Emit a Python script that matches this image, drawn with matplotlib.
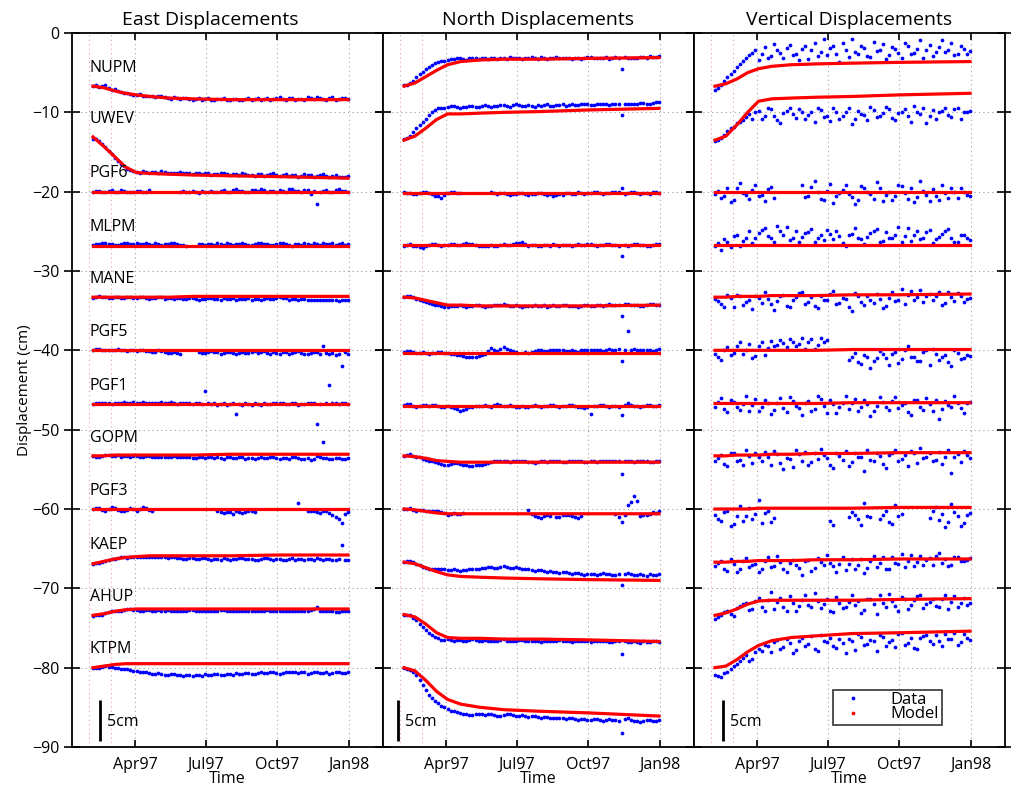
import numpy as np
import matplotlib
matplotlib.use('Agg')
import matplotlib.pyplot as plt
import matplotlib.dates as mdates
from matplotlib.lines import Line2D

plt.rcParams['font.family'] = ['Open Sans', 'DejaVu Sans']

nan = np.nan

stations = ['NUPM', 'UWEV', 'PGF6', 'MLPM', 'MANE', 'PGF5',
            'PGF1', 'GOPM', 'PGF3', 'KAEP', 'AHUP', 'KTPM']

# data sampled every 8 days, Feb 6 1997 .. Dec 31 1997 (42 samples)
data_dates = np.arange(np.datetime64('1997-02-06'), np.datetime64('1998-01-02'),
                       np.timedelta64(8, 'D'))
# second set of samples in between, Feb 10 .. Dec 27 (41 samples)
data_dates2 = np.arange(np.datetime64('1997-02-10'), np.datetime64('1997-12-30'),
                        np.timedelta64(8, 'D'))
model_dates = np.array(['1997-02-06', '1997-02-20', '1997-03-06', '1997-03-20',
                        '1997-04-03', '1997-04-20', '1997-05-15', '1997-06-15',
                        '1997-08-01', '1997-10-01', '1997-12-31'], dtype='datetime64[D]')

# ---- East ----
east_data = {
    'NUPM': [-6.7, -6.8, -6.6, -7.2, -7.3, -7.5, -7.7, -7.8, -7.9, -7.9, -8.1, -8.0, -8.2, -8.1,
             -8.3, -8.2, -8.4, -8.2, -8.3, -8.5, -8.3, -8.2, -8.4, -8.3, -8.5, -8.2, -8.3, -8.4,
             -8.2, -8.3, -8.1, -8.4, -8.2, -8.3, -8.5, -8.2, -8.1, -8.3, -8.2, -8.4, -8.2, -8.3],
    'UWEV': [-13.3, -13.6, -14.4, -15.3, -16.1, -16.8, -17.3, -17.5, -17.4, -17.6, -17.5, -17.4, -17.6, -17.7,
             -17.5, -17.6, -17.8, -17.7, -17.6, -17.9, -17.8, -17.7, -17.9, -17.8, -17.7, -17.9, -18.0, -17.8,
             -17.9, -17.7, -18.0, -17.8, -17.9, -18.1, -17.8, -17.9, -18.0, -17.8, -18.1, -17.9, -18.2, -18.0],
    'PGF6': [-20.0, -19.9, -20.1, -19.8, -20.0, -19.9, -20.1, -19.9, -20.0, -19.8, nan, nan, nan, nan,
             -20.0, -20.1, -19.9, -20.2, -20.0, -19.9, -20.1, -19.8, -20.0, -19.7, -19.9, -20.0, -19.8, -19.7,
             -20.0, -19.9, -19.8, -20.1, -19.7, -19.9, -19.8, -20.3, -21.5, -19.9, -20.0, -19.8, -19.9, -20.0],
    'MLPM': [-26.7, -26.6, -26.5, -26.6, -26.7, -26.5, -26.6, -26.5, -26.6, -26.6, -26.5, -26.7, -26.6, -26.5,
             -26.7, -26.8, nan, -26.6, -26.7, -26.6, -26.5, -26.7, -26.6, -26.6, -26.5, -26.7, -26.6, -26.5,
             -26.6, -26.7, -26.5, -26.6, -26.8, -26.6, -26.5, -26.7, -26.6, -26.5, -26.6, -26.7, -26.5, -26.6],
    'MANE': [-33.4, -33.2, -33.3, -33.4, -33.3, -33.4, -33.3, -33.4, -33.3, -33.5, -33.4, -33.3, -33.4, -33.5,
             -33.4, -33.5, -33.4, -33.6, -33.5, -33.4, -33.5, -33.4, -33.5, -33.6, -33.5, -33.4, -33.5, -33.6,
             -33.4, -33.5, -33.3, -33.4, -33.5, -33.6, -33.5, -33.6, -33.7, -33.6, -33.7, -33.6, -33.7, -33.6],
    'PGF5': [-39.9, -39.8, -39.9, -40.0, -39.8, -40.0, -39.9, -40.1, -40.0, -40.1, -40.2, -40.1, -40.3, -40.2,
             -40.4, nan, nan, -40.2, -40.3, -40.1, -40.2, -40.3, -40.2, -40.4, -40.2, -40.3, -40.1, -40.2,
             -40.3, -40.2, -40.4, -40.2, -40.3, -40.1, -40.5, -40.3, -40.2, -39.4, -40.4, -40.6, -42.0, -40.4],
    'PGF1': [-46.8, -46.6, -46.7, -46.8, -46.6, -46.5, -46.7, -46.6, -46.5, -46.7, -46.6, -46.5, -46.7, -46.6,
             -46.7, -46.6, -46.8, -46.7, -45.1, -46.8, -46.9, -46.7, -46.8, -48.0, -46.9, -46.8, -46.7, -46.9,
             -46.8, -46.7, -46.6, -46.8, -46.7, -46.9, -46.8, -46.6, -49.3, -51.5, -44.4, -46.7, -46.6, -46.8],
    'GOPM': [-53.3, -53.4, -53.2, -53.3, -53.2, -53.3, -53.4, -53.3, -53.4, -53.3, -53.4, -53.5, -53.4, -53.3,
             -53.5, -53.4, -53.6, -53.5, -53.6, -53.4, -53.5, -53.7, -53.5, -53.6, -53.5, -53.6, -53.7, -53.5,
             -53.6, -53.5, -53.7, -53.6, -53.5, -53.6, -53.7, -53.8, -53.3, -53.6, -53.7, -53.6, -53.7, -53.6],
    'PGF3': [-60.0, -59.9, -60.2, -59.8, -60.1, -60.3, -59.9, -60.2, -59.8, -60.1, nan, nan, nan, nan,
             nan, nan, nan, nan, nan, nan, -60.3, -60.5, -60.4, -60.3, -60.5, -60.2, -60.4, nan,
             nan, nan, nan, nan, nan, -59.3, nan, -60.3, -60.4, -60.2, -60.5, -61.0, -61.8, -60.4],
    'KAEP': [-66.9, -66.8, -66.5, -66.3, -66.2, -66.1, -66.1, -66.0, -66.1, -66.0, -66.1, -66.0, -66.2, -66.1,
             -66.2, -66.3, -66.2, -66.3, -66.2, -66.4, -66.3, -66.2, -66.4, -66.3, -66.2, -66.3, -66.4, -66.3,
             -66.2, -66.4, -66.3, -66.4, -66.2, -66.3, -66.4, -66.3, -66.2, -66.4, -66.3, -66.4, -64.5, -66.4],
    'AHUP': [-73.5, -73.4, -73.1, -72.9, -72.8, -72.7, -72.6, -72.7, -72.8, -72.7, -72.8, -72.9, -72.7, -72.8,
             -72.9, -72.8, -72.7, -72.9, -72.8, -72.9, -72.8, -72.7, -72.9, -72.8, -72.9, -72.8, -72.9, -72.8,
             -72.7, -72.9, -72.8, -72.9, -72.8, -72.9, -72.8, -72.7, -72.4, -72.8, -72.9, -73.0, -72.9, -72.9],
    'KTPM': [-80.1, -80.0, -79.8, -79.9, -80.1, -80.2, -80.3, -80.4, -80.5, -80.7, -80.8, -80.8, -80.9, -80.8,
             -80.9, -80.9, -81.0, -80.9, -80.8, -80.9, -80.8, -80.9, -80.8, -80.7, -80.8, -80.7, -80.8, -80.6,
             -80.7, -80.6, -80.8, -80.6, -80.5, -80.7, -80.6, -80.7, -80.6, -80.7, -80.8, -80.6, -80.7, -80.6],
}
east_data2 = {
    'NUPM': [-6.6, -6.7, -6.9, -7.1, -7.4, -7.6, -7.8, -7.7, -8.0, -8.0, -7.9, -8.1, -8.3, -8.2,
             -8.2, -8.3, -8.3, -8.4, -8.2, -8.4, -8.3, -8.5, -8.3, -8.4, -8.3, -8.4, -8.2, -8.3,
             -8.4, -8.2, -8.3, -8.2, -8.4, -8.3, -8.1, -8.3, -8.2, -8.4, -8.1, -8.3, -8.2],
    'UWEV': [-13.4, -14.0, -14.9, -15.7, -16.5, -17.1, -17.4, -17.6, -17.5, -17.5, -17.6, -17.5, -17.7, -17.6,
             -17.6, -17.7, -17.6, -17.8, -17.7, -17.8, -17.7, -17.8, -17.8, -17.9, -17.8, -17.9, -17.8, -18.0,
             -17.8, -17.9, -17.9, -18.0, -17.9, -18.0, -17.9, -18.1, -17.9, -18.0, -18.0, -18.1, -18.2],
    'PGF6': [-19.9, -20.0, -19.9, -20.1, -19.8, -20.0, -20.0, -19.9, -20.1, nan, nan, nan, nan, nan,
             -19.9, -20.0, -20.1, -19.9, -20.1, -20.0, -19.9, -20.0, -19.8, -19.9, -20.0, -19.8, -19.9, -19.8,
             -19.9, -20.0, -19.9, -19.7, -19.9, -20.0, -19.8, -19.9, -20.0, -19.8, -20.1, -19.7, -19.9],
    'MLPM': [-26.6, -26.5, -26.6, -26.7, -26.6, -26.5, -26.6, -26.6, -26.5, -26.7, -26.6, -26.6, -26.5, -26.6,
             -26.7, nan, nan, -26.6, -26.6, -26.7, -26.6, -26.5, -26.7, -26.6, -26.6, -26.7, -26.5, -26.6,
             -26.7, -26.6, -26.5, -26.7, -26.6, -26.7, -26.6, -26.5, -26.7, -26.6, -26.5, -26.6, -26.7],
    'MANE': [-33.3, -33.3, -33.4, -33.3, -33.4, -33.3, -33.4, -33.3, -33.4, -33.4, -33.3, -33.5, -33.4, -33.4,
             -33.5, -33.4, -33.5, -33.5, -33.4, -33.5, -33.6, -33.5, -33.4, -33.5, -33.5, -33.6, -33.5, -33.5,
             -33.5, -33.4, -33.4, -33.6, -33.5, -33.5, -33.6, -33.7, -33.6, -33.7, -33.6, -33.8, -33.7],
    'PGF5': [-39.8, -39.9, -40.0, -39.9, -39.9, -40.1, -40.0, -40.0, -40.1, -40.2, -40.0, -40.2, -40.3, -40.3,
             nan, nan, nan, -40.3, -40.2, -40.2, -40.4, -40.2, -40.3, -40.3, -40.3, -40.2, -40.3, -40.1,
             -40.4, -40.3, -40.2, -40.4, -40.2, -40.3, -40.4, -40.2, -40.5, -40.3, -40.3, -40.5, -40.2],
    'PGF1': [-46.7, -46.7, -46.6, -46.7, -46.6, -46.6, -46.5, -46.7, -46.6, -46.6, -46.7, -46.6, -46.5, -46.8,
             -46.6, -46.7, -46.6, -46.8, -46.7, -46.6, -46.8, -46.9, -46.7, -46.8, -46.7, -46.9, -46.8, -46.7,
             -46.8, -46.6, -46.7, -46.8, -46.6, -46.8, -46.7, -46.7, -46.8, -46.6, -46.7, -46.8, -46.7],
    'GOPM': [-53.4, -53.3, -53.2, -53.3, -53.4, -53.3, -53.3, -53.4, -53.3, -53.4, -53.5, -53.4, -53.5, -53.4,
             -53.4, -53.5, -53.6, -53.5, -53.5, -53.6, -53.6, -53.5, -53.6, -53.5, -53.7, -53.6, -53.6, -53.6,
             -53.5, -53.6, -53.6, -53.7, -53.5, -53.7, -53.6, -53.7, -53.5, -53.6, -53.7, -53.6, -53.7],
    'PGF3': [-59.9, -60.1, -60.0, -59.9, -60.2, -60.1, -60.0, -60.0, -59.9, -60.2, nan, nan, nan, nan,
             nan, nan, nan, nan, nan, nan, -60.4, -60.4, -60.6, -60.4, -60.4, -60.3, nan, nan,
             nan, nan, nan, nan, nan, nan, -60.2, -60.3, -60.5, -60.3, -60.7, -61.3, -60.6],
    'KAEP': [-66.8, -66.7, -66.4, -66.3, -66.1, -66.2, -66.0, -66.1, -66.0, -66.1, -66.1, -66.1, -66.1, -66.2,
             -66.3, -66.2, -66.3, -66.2, -66.3, -66.3, -66.4, -66.3, -66.3, -66.2, -66.3, -66.3, -66.4, -66.2,
             -66.3, -66.3, -66.4, -66.3, -66.4, -66.3, -66.3, -66.4, -66.3, -66.3, -66.4, -66.3, -66.4],
    'AHUP': [-73.4, -73.3, -73.0, -72.8, -72.8, -72.6, -72.7, -72.8, -72.7, -72.8, -72.7, -72.8, -72.8, -72.9,
             -72.8, -72.7, -72.8, -72.8, -72.9, -72.8, -72.7, -72.8, -72.8, -72.9, -72.8, -72.9, -72.8, -72.9,
             -72.8, -72.8, -72.9, -72.8, -72.9, -72.8, -72.8, -72.6, -72.9, -72.8, -72.9, -73.0, -72.8],
    'KTPM': [-80.0, -79.9, -79.9, -80.0, -80.2, -80.2, -80.4, -80.5, -80.6, -80.8, -80.7, -80.9, -80.8, -80.9,
             -81.0, -80.9, -80.9, -81.0, -80.9, -80.8, -80.9, -80.8, -80.9, -80.8, -80.7, -80.8, -80.7, -80.7,
             -80.6, -80.7, -80.7, -80.5, -80.6, -80.6, -80.8, -80.6, -80.7, -80.6, -80.7, -80.6, -80.7],
}
east_model = {
    'NUPM': [-6.7, -6.9, -7.3, -7.6, -7.8, -8.0, -8.2, -8.3, -8.4, -8.4, -8.4],
    'UWEV': [-13.1, -14.3, -15.6, -16.9, -17.6, -17.7, -17.8, -17.9, -18.0, -18.1, -18.3],
    'PGF6': [-20.0, -20.0, -20.0, -20.0, -20.0, -20.0, -20.0, -20.0, -20.0, -20.0, -20.0],
    'MLPM': [-26.8, -26.8, -26.8, -26.8, -26.8, -26.8, -26.8, -26.8, -26.8, -26.8, -26.8],
    'MANE': [-33.3, -33.3, -33.3, -33.3, -33.3, -33.3, -33.3, -33.2, -33.2, -33.2, -33.2],
    'PGF5': [-40.0, -40.0, -40.0, -40.0, -40.0, -40.0, -40.0, -40.0, -40.0, -40.0, -40.0],
    'PGF1': [-46.8, -46.8, -46.8, -46.8, -46.8, -46.8, -46.8, -46.8, -46.8, -46.8, -46.8],
    'GOPM': [-53.3, -53.3, -53.2, -53.2, -53.2, -53.2, -53.2, -53.2, -53.1, -53.1, -53.1],
    'PGF3': [-60.0, -60.0, -60.0, -60.0, -60.0, -60.0, -60.0, -60.0, -60.0, -60.0, -60.0],
    'KAEP': [-66.9, -66.6, -66.3, -66.1, -66.0, -65.9, -65.9, -65.9, -65.9, -65.8, -65.8],
    'AHUP': [-73.4, -73.2, -72.9, -72.7, -72.6, -72.6, -72.6, -72.6, -72.6, -72.6, -72.6],
    'KTPM': [-80.0, -79.8, -79.6, -79.5, -79.5, -79.5, -79.5, -79.5, -79.5, -79.5, -79.5],
}

# ---- North ----
north_data = {
    'NUPM': [-6.6, -6.3, -5.6, -4.9, -4.3, -3.8, -3.5, -3.4, -3.3, -3.2, -3.4, -3.1, -3.3, -3.2,
             -3.1, -3.3, -3.2, -3.0, -3.2, -3.3, -3.1, -3.2, -3.0, -3.3, -3.1, -3.2, -3.1, -3.3,
             -3.2, -3.1, -3.0, -3.2, -3.1, -3.3, -3.0, -4.5, -3.1, -3.2, -3.0, -3.1, -3.0, -2.9],
    'UWEV': [-13.4, -13.0, -12.0, -11.2, -10.3, -9.7, -9.4, -9.3, -9.2, -9.4, -9.3, -9.2, -9.3, -9.1,
             -9.3, -9.2, -9.1, -9.3, -9.0, -9.2, -9.1, -9.3, -9.2, -9.0, -9.2, -9.1, -9.2, -9.0,
             -9.1, -8.9, -9.1, -9.0, -8.9, -9.1, -9.0, -10.3, -8.9, -9.0, -8.8, -8.9, -8.8, -8.7],
    'PGF6': [-20.1, -20.2, -20.3, -20.1, -20.2, -20.5, -20.8, -20.2, -20.1, -20.2, nan, nan, nan, nan,
             -20.1, -20.3, -20.2, -20.4, -20.3, -20.2, -20.4, -20.3, -20.2, -20.4, -20.5, -20.3, -20.2, -20.3,
             -20.1, -20.3, -20.2, -20.1, -20.3, -20.2, -20.0, -19.5, -20.2, -20.1, -20.3, -20.2, -20.1, -20.2],
    'MLPM': [-26.8, -26.6, -26.9, -27.1, -26.7, -26.6, -26.8, -26.7, -26.6, -26.7, -26.5, -26.6, -26.8, -26.9,
             -26.7, -26.8, -26.6, -26.7, -26.5, -26.4, -26.8, -26.7, -26.8, -26.7, -26.6, -26.8, -26.7, -26.8,
             -26.6, -26.7, -26.6, -26.8, -26.7, -26.6, -26.7, -28.1, -26.8, -26.6, -26.7, -26.8, -26.7, -26.6],
    'MANE': [-33.3, -33.1, -33.5, -33.8, -34.0, -34.3, -34.4, -34.5, -34.4, -34.3, -34.5, -34.4, -34.3, -34.5,
             -34.4, -34.3, -34.2, -34.4, -34.3, -34.5, -34.4, -34.3, -34.4, -34.5, -34.3, -34.4, -34.3, -34.4,
             -34.5, -34.3, -34.4, -34.3, -34.4, -34.2, -34.3, -35.7, -34.2, -34.3, -34.4, -34.3, -34.2, -34.3],
    'PGF5': [-40.2, -40.1, -40.3, -40.2, -40.4, -40.3, -40.2, -40.3, -40.5, -40.6, -40.8, -40.9, -40.7, -40.5,
             -39.7, -40.1, -39.6, -40.0, -40.2, nan, -40.3, -40.1, -40.0, -40.1, -39.9, -40.0, -40.1, -40.0,
             -40.2, -39.9, -40.0, -39.9, -40.1, -39.8, -39.9, -41.4, -37.6, -39.8, -40.0, -39.9, -40.1, -39.8],
    'PGF1': [-46.9, -46.8, -47.1, -46.9, -47.0, -46.9, -47.1, -47.0, -47.3, -47.6, -47.4, -47.1, -47.0, -46.9,
             -47.1, -46.8, -47.0, -46.9, -47.1, -47.0, -47.2, -46.9, -47.1, -47.0, -46.9, -47.1, -47.0, -46.9,
             -47.1, -47.3, -48.0, -47.0, -46.9, -47.1, -47.0, -48.1, -46.6, -47.0, -47.1, -46.9, -47.0, -46.9],
    'GOPM': [-53.3, -53.1, -53.4, -53.7, -53.9, -54.1, -54.3, -54.4, -54.2, -54.3, -54.5, -54.6, -54.5, -54.3,
             -54.1, -54.0, -53.9, -54.1, -54.0, -53.9, -54.1, -54.2, -54.0, -54.1, -53.9, -54.0, -54.1, -54.0,
             -53.9, -54.1, -54.0, -54.1, -53.9, -54.0, -53.9, -55.6, -54.0, -54.1, -53.9, -54.0, -54.1, -54.0],
    'PGF3': [-60.0, -59.9, -60.2, -60.1, -60.3, -60.2, -60.4, -60.7, -60.5, -60.6, nan, nan, nan, nan,
             nan, nan, nan, nan, nan, nan, -60.1, -60.9, -61.1, -60.8, nan, -61.0, -60.7, -60.9,
             -61.1, nan, nan, nan, nan, nan, -60.6, -61.6, -59.5, -58.3, -60.9, -60.7, -60.4, -60.3],
    'KAEP': [-66.7, -66.5, -66.9, -67.3, -67.5, -67.6, -67.5, -67.7, -67.6, -67.8, -67.7, -67.6, -67.5, -67.4,
             -67.3, -67.4, -67.2, -67.4, -67.3, -67.5, -67.6, -67.8, -67.7, -67.9, -68.0, -68.1, -68.0, -68.2,
             -68.1, -68.3, -68.2, -68.3, -68.1, -68.2, -68.3, -69.6, -68.1, -68.3, -68.2, -68.4, -68.3, -68.2],
    'AHUP': [-73.3, -73.4, -74.0, -74.9, -75.6, -76.1, -76.5, -76.4, -76.6, -76.5, -76.7, -76.4, -76.6, -76.5,
             -76.7, -76.6, -76.4, -76.7, -76.6, -76.5, -76.7, -76.6, -76.8, -76.6, -76.7, -76.5, -76.6, -76.8,
             -76.7, -76.6, -76.8, -76.7, -76.6, -76.8, -76.7, -78.3, -76.8, -76.7, -76.9, -76.8, -76.7, -76.8],
    'KTPM': [-80.1, -80.3, -80.9, -82.2, -83.4, -84.2, -84.8, -85.2, -85.5, -85.7, -85.9, -86.0, -85.8, -86.0,
             -85.9, -86.1, -86.0, -85.9, -86.1, -86.0, -86.2, -86.1, -86.3, -86.2, -86.4, -86.3, -86.5, -86.4,
             -86.6, -86.5, -86.6, -86.5, -86.7, -86.5, -86.6, -88.2, -86.4, -86.7, -86.8, -86.6, -86.7, -86.6],
}
north_data2 = {
    'NUPM': [-6.5, -6.0, -5.2, -4.6, -4.0, -3.6, -3.5, -3.3, -3.2, -3.3, -3.2, -3.2, -3.1, -3.3,
             -3.2, -3.1, -3.3, -3.1, -3.2, -3.2, -3.0, -3.3, -3.1, -3.2, -3.0, -3.2, -3.2, -3.1,
             -3.3, -3.0, -3.2, -3.1, -3.0, -3.2, -3.1, -3.0, -3.2, -3.1, -3.0, -2.9, -3.0],
    'UWEV': [-13.2, -12.5, -11.6, -10.8, -10.0, -9.5, -9.4, -9.2, -9.3, -9.3, -9.2, -9.3, -9.2, -9.2,
             -9.2, -9.1, -9.2, -9.1, -9.1, -9.2, -9.2, -9.1, -9.1, -9.2, -9.1, -9.0, -9.1, -9.1,
             -9.0, -9.0, -9.1, -8.9, -9.0, -9.0, -8.9, -9.0, -8.9, -8.9, -8.8, -8.9, -8.7],
    'PGF6': [-20.2, -20.3, -20.2, -20.1, -20.3, -20.6, -20.4, -20.1, -20.2, nan, nan, nan, nan, nan,
             -20.2, -20.2, -20.3, -20.3, -20.2, -20.3, -20.3, -20.2, -20.3, -20.3, -20.4, -20.4, -20.2, -20.3,
             -20.2, -20.2, -20.1, -20.2, -20.2, -20.1, -20.1, -20.3, -20.1, -20.2, -20.2, -20.3, -20.1],
    'MLPM': [-26.7, -26.8, -27.0, -26.9, -26.6, -26.7, -26.7, -26.6, -26.7, -26.6, -26.6, -26.7, -26.8, -26.8,
             -26.8, -26.7, -26.7, -26.6, -26.5, -26.6, -26.7, -26.8, -26.7, -26.8, -26.7, -26.7, -26.7, -26.7,
             -26.7, -26.6, -26.7, -26.7, -26.6, -26.7, -26.8, -26.7, -26.7, -26.6, -26.7, -26.8, -26.6],
    'MANE': [-33.2, -33.3, -33.6, -33.9, -34.2, -34.3, -34.5, -34.4, -34.4, -34.4, -34.4, -34.3, -34.4, -34.4,
             -34.3, -34.3, -34.3, -34.4, -34.4, -34.4, -34.4, -34.4, -34.3, -34.4, -34.4, -34.3, -34.4, -34.4,
             -34.4, -34.3, -34.4, -34.3, -34.3, -34.3, -34.3, -34.2, -34.3, -34.3, -34.4, -34.2, -34.3],
    'PGF5': [-40.1, -40.2, -40.3, -40.3, -40.3, -40.2, -40.3, -40.4, -40.6, -40.7, -40.9, -40.8, -40.6, -40.1,
             -39.9, -39.8, -39.8, -40.1, nan, -40.2, -40.2, -40.0, -40.1, -40.0, -40.0, -40.0, -40.1, -40.1,
             -40.0, -40.0, -39.9, -40.0, -40.0, -39.9, -39.8, -40.0, -39.9, -39.9, -40.0, -40.0, -39.9],
    'PGF1': [-46.8, -47.0, -47.0, -46.9, -46.9, -47.0, -47.1, -47.2, -47.4, -47.5, -47.2, -47.0, -47.0, -47.0,
             -46.9, -46.9, -47.0, -47.0, -47.1, -47.1, -47.0, -47.0, -47.0, -46.9, -47.0, -47.0, -46.9, -47.0,
             -47.2, -47.1, -47.0, -46.9, -47.0, -47.0, -47.1, -46.9, -46.9, -47.0, -47.0, -46.9, -47.0],
    'GOPM': [-53.2, -53.3, -53.5, -53.8, -54.0, -54.2, -54.4, -54.3, -54.2, -54.4, -54.6, -54.5, -54.4, -54.2,
             -54.0, -54.0, -54.0, -54.0, -54.0, -54.0, -54.1, -54.1, -54.0, -54.0, -54.0, -54.1, -54.0, -53.9,
             -54.0, -54.1, -54.0, -54.0, -53.9, -54.0, -54.0, -54.0, -54.0, -54.0, -54.0, -54.1, -54.0],
    'PGF3': [-60.0, -60.1, -60.1, -60.2, -60.3, -60.3, -60.5, -60.6, -60.6, -60.5, nan, nan, nan, nan,
             nan, nan, nan, nan, nan, nan, -60.6, -61.0, -60.9, -60.9, -61.0, -60.8, -60.8, -61.0,
             -60.9, nan, nan, nan, nan, nan, -61.0, -60.8, -59.1, -59.0, -60.8, -60.6, -60.5],
    'KAEP': [-66.6, -66.7, -67.1, -67.4, -67.6, -67.5, -67.6, -67.7, -67.7, -67.7, -67.6, -67.5, -67.4, -67.3,
             -67.4, -67.3, -67.3, -67.4, -67.4, -67.5, -67.7, -67.7, -67.8, -67.8, -68.0, -68.0, -68.1, -68.1,
             -68.2, -68.2, -68.2, -68.2, -68.2, -68.3, -68.2, -68.2, -68.2, -68.3, -68.3, -68.2, -68.3],
    'AHUP': [-73.3, -73.7, -74.5, -75.3, -75.9, -76.3, -76.5, -76.5, -76.5, -76.6, -76.5, -76.5, -76.6, -76.6,
             -76.6, -76.5, -76.6, -76.7, -76.5, -76.6, -76.6, -76.7, -76.7, -76.6, -76.6, -76.6, -76.7, -76.7,
             -76.7, -76.7, -76.7, -76.7, -76.7, -76.8, -76.7, -76.7, -76.8, -76.8, -76.7, -76.8, -76.7],
    'KTPM': [-80.2, -80.6, -81.6, -82.8, -83.8, -84.5, -85.0, -85.4, -85.6, -85.8, -86.0, -85.9, -85.9, -85.9,
             -86.0, -86.1, -85.9, -86.0, -86.1, -86.1, -86.1, -86.2, -86.2, -86.3, -86.3, -86.4, -86.4, -86.5,
             -86.5, -86.6, -86.5, -86.6, -86.6, -86.6, -86.7, -86.5, -86.6, -86.7, -86.7, -86.6, -86.7],
}
north_model = {
    'NUPM': [-6.7, -6.3, -5.5, -4.7, -4.0, -3.6, -3.4, -3.3, -3.3, -3.2, -3.1],
    'UWEV': [-13.5, -13.0, -12.0, -10.9, -10.2, -10.2, -10.1, -10.0, -9.9, -9.7, -9.5],
    'PGF6': [-20.2, -20.2, -20.2, -20.2, -20.2, -20.2, -20.2, -20.2, -20.2, -20.2, -20.2],
    'MLPM': [-26.7, -26.7, -26.7, -26.7, -26.7, -26.7, -26.7, -26.7, -26.7, -26.7, -26.7],
    'MANE': [-33.3, -33.4, -33.7, -34.0, -34.3, -34.3, -34.4, -34.4, -34.4, -34.4, -34.3],
    'PGF5': [-40.3, -40.3, -40.3, -40.3, -40.3, -40.3, -40.3, -40.3, -40.3, -40.3, -40.3],
    'PGF1': [-47.0, -47.0, -47.0, -47.0, -47.0, -47.0, -47.0, -47.0, -47.0, -47.0, -47.0],
    'GOPM': [-53.3, -53.4, -53.6, -53.9, -54.0, -54.1, -54.1, -54.1, -54.1, -54.1, -54.1],
    'PGF3': [-60.0, -60.1, -60.3, -60.5, -60.6, -60.6, -60.6, -60.6, -60.6, -60.6, -60.6],
    'KAEP': [-66.7, -66.9, -67.4, -67.9, -68.3, -68.5, -68.6, -68.7, -68.8, -68.9, -69.0],
    'AHUP': [-73.3, -73.6, -74.5, -75.6, -76.2, -76.3, -76.3, -76.4, -76.4, -76.5, -76.7],
    'KTPM': [-80.0, -80.4, -81.6, -83.0, -84.0, -84.6, -85.0, -85.3, -85.5, -85.7, -86.1],
}

# ---- Vertical ----
up_data = {
    'NUPM': [-7.2, -6.6, -5.5, -4.8, -3.9, -3.2, -2.5, -3.4, -1.8, -2.9, -2.2, -3.1, -1.5, -2.6,
             -2.0, -3.3, -1.2, -2.4, -2.8, -1.7, -3.6, -2.1, -0.8, -2.7, -1.9, -3.0, -2.3, -1.4,
             -2.8, -2.0, -3.2, -1.6, -2.5, -0.9, -2.2, -2.9, -1.8, -2.4, -1.3, -2.6, -2.0, -2.3],
    'UWEV': [-13.6, -13.2, -12.4, -11.8, -11.2, -10.6, -10.8, -9.8, -10.5, -9.6, -11.0, -10.1, -9.4, -10.7,
             -9.9, -10.3, -11.2, -9.7, -10.4, -9.5, -10.8, -10.0, -11.5, -9.8, -10.3, -9.3, -10.6, -10.1,
             -9.6, -11.0, -9.9, -10.4, -9.2, -10.2, -11.3, -9.7, -10.0, -9.5, -10.6, -9.4, -9.9, -9.8],
    'PGF6': [-20.3, -20.8, -19.6, -21.0, -18.9, -20.4, -19.8, -20.6, -21.2, -19.4, nan, nan, nan, nan,
             -19.2, -20.5, -18.6, -20.9, -19.9, -21.4, -20.2, -19.1, -20.7, -21.0, -19.6, -20.3, -18.8, -21.2,
             -20.0, -20.6, -19.3, -20.9, -21.3, -18.7, -20.4, -19.7, -21.1, -20.2, -19.5, -20.8, -20.1, -20.6],
    'MLPM': [-26.8, -27.4, -26.3, -25.6, -26.9, -25.9, -26.5, -25.2, -24.6, -25.8, -24.3, -25.5, -26.1, -24.9,
             -25.7, -25.1, -26.4, -25.4, -24.8, -26.0, -25.6, -26.9, -25.3, -25.9, -26.6, -25.2, -24.7, -26.2,
             -25.8, -25.4, -26.3, -24.6, -25.5, -26.0, -25.1, -26.5, -25.7, -24.9, -25.9, -26.3, -25.4, -26.1],
    'MANE': [-33.5, -34.1, -33.0, -34.5, -33.2, -33.9, -34.8, -33.4, -32.6, -34.2, -33.8, -33.0, -34.6, -33.3,
             -32.7, -33.9, -34.4, -33.1, -33.7, -32.5, -34.0, -33.5, -35.0, -33.2, -34.3, -33.6, -32.9, -34.7,
             -33.4, -33.8, -32.3, -33.0, -33.7, -32.4, -33.1, -33.6, -32.6, -34.0, -33.3, -32.8, -33.9, -33.4],
    'PGF5': [-40.5, -41.2, -39.6, -40.3, -38.9, -40.0, -41.0, -39.4, -40.6, -38.8, -39.3, -39.1, -38.6, -39.5,
             -38.4, -39.0, -39.8, -38.5, -38.7, nan, nan, nan, -40.9, -41.5, -40.6, -42.2, -41.0, -40.4,
             -41.8, -40.2, -41.1, -39.5, -40.8, -41.4, -40.0, -39.8, -41.2, -40.6, -42.0, -40.3, -41.0, -40.7],
    'PGF1': [-47.2, -46.0, -47.8, -46.5, -47.5, -45.8, -46.9, -47.6, -46.3, -48.0, -46.7, -47.3, -45.9, -47.0,
             -48.2, -46.4, -47.4, -46.1, -47.9, -46.8, -47.2, -45.7, -46.6, -47.7, -46.2, -48.3, -47.0, -46.5,
             -47.5, -45.9, -46.9, -47.8, -46.3, -47.1, -46.0, -47.6, -48.6, -46.4, -47.2, -46.7, -47.9, -46.5],
    'GOPM': [-54.0, -53.2, -54.6, -52.9, -53.8, -52.6, -54.2, -53.5, -52.8, -54.4, -53.1, -55.0, -53.7, -52.5,
             -53.9, -54.5, -53.0, -52.4, -53.6, -54.8, -53.3, -52.7, -54.1, -53.4, -55.2, -53.8, -52.9, -54.3,
             -53.2, -52.6, -53.7, -54.6, -53.0, -52.3, -53.5, -54.0, -52.8, -53.4, -55.5, -53.1, -52.7, -53.6],
    'PGF3': [-60.8, -61.5, -60.2, -61.9, -59.6, -60.9, -61.3, -58.9, -60.5, -61.7, nan, nan, nan, nan,
             nan, nan, nan, nan, nan, -62.0, nan, nan, -60.4, -61.3, -59.2, -61.0, nan, -60.8,
             -61.6, -59.5, -60.6, nan, nan, nan, nan, -60.3, -61.4, -62.3, -59.4, -60.9, -61.8, -60.5],
    'KAEP': [-67.2, -66.5, -67.8, -66.9, -67.5, -66.2, -67.0, -68.0, -66.6, -67.3, -65.9, -67.6, -66.8, -67.1,
             -68.3, -66.4, -67.4, -66.7, -65.8, -67.2, -66.9, -67.7, -66.3, -67.0, -68.1, -66.5, -67.3, -66.0,
             -67.5, -66.8, -65.7, -66.6, -67.2, -65.9, -66.4, -67.0, -65.6, -66.3, -67.1, -66.0, -66.5, -66.2],
    'AHUP': [-73.9, -73.3, -72.8, -73.5, -72.2, -71.8, -72.6, -71.2, -72.9, -70.4, -71.7, -72.4, -71.0, -72.8,
             -71.5, -72.1, -70.6, -72.5, -71.3, -73.0, -71.9, -72.3, -70.9, -71.6, -72.7, -71.4, -73.2, -71.8,
             -70.7, -72.2, -71.1, -72.6, -71.5, -70.8, -72.0, -71.3, -72.4, -70.9, -71.7, -72.3, -71.2, -71.8],
    'KTPM': [-80.9, -81.2, -80.5, -79.8, -79.2, -78.4, -78.9, -77.6, -77.1, -78.0, -76.5, -77.4, -76.9, -77.8,
             -76.2, -77.0, -77.6, -75.9, -76.8, -77.3, -76.4, -78.1, -76.7, -75.8, -77.2, -76.5, -77.9, -76.1,
             -76.8, -77.4, -75.6, -76.9, -77.5, -76.3, -75.9, -77.0, -76.6, -75.7, -76.4, -77.2, -75.8, -76.5],
}
up_data2 = {
    'NUPM': [-6.9, -6.0, -5.2, -4.3, -3.5, -2.8, -2.1, -2.6, -3.2, -1.4, -2.5, -1.9, -2.8, -3.4,
             -1.6, -2.2, -2.9, -0.7, -1.9, -2.6, -1.3, -3.0, -2.4, -1.7, -2.9, -1.1, -2.2, -3.3,
             -1.8, -2.5, -1.2, -2.7, -2.0, -3.1, -1.5, -2.4, -0.9, -2.1, -2.8, -1.6, -2.7],
    'UWEV': [-13.5, -12.8, -12.0, -11.4, -11.0, -10.2, -9.9, -10.9, -9.5, -10.4, -11.3, -9.8, -10.2, -9.6,
             -10.9, -10.0, -9.4, -10.6, -11.1, -9.9, -10.5, -9.5, -10.8, -10.2, -11.0, -9.7, -10.4, -9.3,
             -10.7, -10.1, -9.6, -11.2, -10.0, -9.4, -10.5, -10.9, -9.8, -10.3, -9.6, -10.8, -10.0],
    'PGF6': [-19.9, -20.6, -21.3, -19.5, -20.2, -20.9, -19.2, -20.4, -19.7, -20.8, nan, nan, nan, nan,
             -20.7, -19.4, -20.1, -21.1, -19.0, -20.6, -19.8, -20.3, -21.5, -19.3, -20.0, -20.9, -19.5, -20.4,
             -21.0, -19.1, -20.2, -19.6, -20.7, -19.9, -21.2, -20.5, -19.2, -20.8, -20.0, -19.6, -20.4],
    'MLPM': [-26.5, -26.0, -27.0, -25.4, -26.2, -25.0, -25.9, -24.8, -25.6, -26.3, -25.0, -24.5, -25.9, -26.4,
             -25.2, -24.7, -25.8, -26.1, -25.3, -24.9, -26.5, -25.5, -24.6, -26.0, -25.7, -24.9, -26.3, -25.1,
             -25.9, -24.4, -25.6, -26.2, -25.0, -25.8, -24.8, -26.0, -25.3, -24.7, -26.4, -25.5, -25.9],
    'MANE': [-33.8, -34.6, -33.4, -33.0, -34.3, -33.6, -33.1, -34.0, -33.5, -34.9, -33.2, -34.4, -33.7, -32.8,
             -34.2, -33.3, -34.7, -33.6, -32.9, -34.1, -33.4, -34.5, -32.8, -33.9, -33.2, -34.0, -33.5, -34.4,
             -32.7, -33.6, -34.1, -32.5, -33.3, -33.9, -32.9, -33.2, -34.3, -32.7, -33.8, -33.1, -33.5],
    'PGF5': [-40.8, -39.9, -40.6, -39.5, -40.4, -39.2, -40.7, -39.0, -39.7, -39.4, -38.7, -39.6, -38.9, -39.2,
             -39.8, -38.6, -39.3, -39.0, nan, nan, nan, -41.2, -40.3, -41.7, -40.8, -41.4, -40.1, -41.0,
             -40.5, -41.6, -39.9, -40.9, -41.3, -40.2, -41.8, -40.4, -40.9, -41.5, -40.0, -41.1, -40.6],
    'PGF1': [-46.5, -47.4, -46.2, -47.1, -46.8, -47.7, -46.1, -47.2, -46.6, -47.5, -46.0, -47.8, -46.4, -47.3,
             -46.7, -47.6, -45.8, -47.0, -46.3, -47.9, -46.6, -47.4, -46.1, -47.2, -46.8, -47.6, -45.9, -47.1,
             -46.4, -47.3, -46.7, -48.1, -46.2, -47.5, -46.8, -46.3, -47.4, -46.9, -45.8, -47.3, -46.6],
    'GOPM': [-53.6, -54.3, -53.0, -53.9, -54.5, -53.3, -52.9, -54.0, -53.4, -52.7, -54.2, -53.6, -54.7, -53.1,
             -52.8, -54.1, -53.7, -53.2, -54.4, -52.9, -53.8, -54.6, -53.0, -53.5, -52.6, -54.0, -53.3, -54.8,
             -52.9, -53.9, -53.2, -52.7, -54.2, -53.6, -53.0, -53.8, -54.3, -52.6, -53.5, -54.1, -53.2],
    'PGF3': [-61.2, -60.4, -62.1, -60.9, -61.5, -59.9, -60.6, -61.8, -60.2, -61.1, nan, nan, nan, nan,
             nan, nan, nan, nan, -61.5, nan, nan, -61.0, -60.7, -62.0, -60.9, nan, -61.3, -60.2,
             -61.9, -60.9, nan, nan, nan, nan, -61.1, -59.8, -60.6, -61.7, -60.4, -62.1, -60.8],
    'KAEP': [-66.8, -67.5, -66.3, -67.9, -66.6, -67.3, -66.9, -67.6, -66.1, -67.2, -66.7, -68.0, -66.4, -67.4,
             -66.6, -67.8, -66.2, -67.1, -66.8, -67.9, -66.0, -66.9, -67.5, -66.3, -67.4, -65.9, -66.8, -67.6,
             -66.1, -66.9, -67.3, -65.8, -66.7, -67.0, -66.2, -65.9, -66.8, -67.2, -66.0, -66.6, -66.4],
    'AHUP': [-73.6, -73.0, -73.2, -72.5, -72.0, -72.7, -71.6, -72.3, -71.5, -72.6, -71.2, -72.9, -71.8, -72.2,
             -70.8, -72.4, -71.6, -72.0, -72.8, -71.1, -72.5, -71.7, -72.1, -73.1, -71.4, -72.0, -70.9, -72.4,
             -71.6, -72.8, -71.3, -72.1, -71.0, -72.5, -71.7, -72.2, -71.4, -72.6, -71.0, -71.9, -72.1],
    'KTPM': [-81.0, -80.7, -80.2, -79.5, -78.8, -79.1, -78.0, -77.9, -77.3, -76.8, -77.7, -76.4, -78.2, -76.6,
             -77.3, -76.0, -77.9, -76.7, -76.2, -77.5, -76.9, -76.4, -77.8, -76.1, -77.0, -76.6, -75.9, -77.3,
             -76.5, -75.8, -77.1, -76.2, -77.6, -76.0, -76.7, -75.9, -77.3, -76.4, -75.6, -76.8, -76.2],
}
up_model = {
    'NUPM': [-6.7, -6.4, -5.8, -5.0, -4.5, -4.2, -4.0, -3.9, -3.8, -3.7, -3.6],
    'UWEV': [-13.5, -13.0, -11.6, -10.0, -8.6, -8.3, -8.2, -8.1, -8.0, -7.8, -7.6],
    'PGF6': [-20.0, -20.0, -20.0, -20.0, -20.0, -20.0, -20.0, -20.0, -20.0, -20.0, -20.0],
    'MLPM': [-26.7, -26.7, -26.7, -26.7, -26.7, -26.7, -26.7, -26.7, -26.7, -26.7, -26.7],
    'MANE': [-33.3, -33.3, -33.2, -33.2, -33.2, -33.1, -33.1, -33.1, -33.0, -33.0, -32.9],
    'PGF5': [-40.0, -40.0, -40.0, -40.0, -40.0, -40.0, -40.0, -40.0, -39.9, -39.9, -39.9],
    'PGF1': [-46.7, -46.7, -46.7, -46.7, -46.7, -46.7, -46.7, -46.7, -46.6, -46.6, -46.6],
    'GOPM': [-53.3, -53.3, -53.2, -53.2, -53.2, -53.1, -53.1, -53.0, -53.0, -52.9, -52.9],
    'PGF3': [-60.0, -60.0, -60.0, -60.0, -59.9, -59.9, -59.9, -59.9, -59.9, -59.8, -59.8],
    'KAEP': [-66.7, -66.7, -66.6, -66.6, -66.5, -66.5, -66.5, -66.4, -66.4, -66.3, -66.3],
    'AHUP': [-73.4, -73.1, -72.6, -72.0, -71.6, -71.5, -71.5, -71.5, -71.5, -71.4, -71.3],
    'KTPM': [-80.0, -79.8, -79.0, -78.0, -77.2, -76.6, -76.2, -76.0, -75.7, -75.6, -75.4],
}

titles = ['East Displacements', 'North Displacements', 'Vertical Displacements']
title_x = [0.444, 0.5, 0.5]
tick_dates = np.array(['1997-04-01', '1997-07-01', '1997-10-01', '1998-01-01'], dtype='datetime64[D]')
extra_grid = np.array(['1997-02-01', '1997-03-01'], dtype='datetime64[D]')

W, H = 1012, 788
fig = plt.figure(figsize=(W / 100, H / 100), dpi=100)

panel_left = [72, 383, 694]
panel_w = 311
bottom, top = 747, 33
bar_offset = [36, 19, 37]   # days after left edge for the 5cm bar

xmin = np.datetime64('1997-01-10')
xmax = np.datetime64('1998-02-14')

blue = '#0000ff'
red = '#ff0000'

components = [(east_data, east_data2, east_model),
              (north_data, north_data2, north_model),
              (up_data, up_data2, up_model)]

axes = []
for k, (data, data2, model) in enumerate(components):
    ax = fig.add_axes([panel_left[k] / W, (H - bottom) / H, panel_w / W, (bottom - top) / H])
    axes.append(ax)

    # grid
    for y in range(-80, 0, 10):
        ax.axhline(y, color='#9a9a9a', lw=0.8, ls=(0, (1, 3)), zorder=0)
    for d in tick_dates:
        ax.axvline(d, color='#b0a0a0', lw=0.8, ls=(0, (1, 3)), zorder=0)
    for d in extra_grid:
        ax.axvline(d, color='#e0a0a0', lw=0.8, ls=(0, (1, 3)), zorder=0)

    for st in stations:
        ax.plot(data_dates, data[st], ls='none', marker='o', ms=2.7, mew=0, color=blue, zorder=2)
        ax.plot(data_dates2, data2[st], ls='none', marker='o', ms=2.7, mew=0, color=blue, zorder=2)
        ax.plot(model_dates, model[st], '-', color=red, lw=2.3, zorder=3)

    ax.set_xlim(xmin, xmax)
    ax.set_ylim(-90, 0)
    ax.set_xticks(tick_dates)
    ax.xaxis.set_major_formatter(mdates.DateFormatter('%b%y'))
    ax.set_yticks(range(-90, 1, 10))
    ax.tick_params(axis='x', direction='in', top=True, length=5, width=1.2, labelsize=11.5, pad=7)
    ax.tick_params(axis='y', direction='inout', left=True, right=True, length=11, width=1.2, labelsize=11.5)
    if k > 0:
        ax.tick_params(axis='y', labelleft=False)
    for sp in ax.spines.values():
        sp.set_linewidth(1.3)

    ax.set_title(titles[k], fontsize=14, pad=6, x=title_x[k])
    ax.set_xlabel('Time', fontsize=11.5, labelpad=-1)

    # 5cm scale bar
    xb = xmin + np.timedelta64(bar_offset[k], 'D')
    ax.plot([xb, xb], [-84.1, -89.2], color='k', lw=2, solid_capstyle='butt', zorder=4)
    ax.text(xb + np.timedelta64(9, 'D'), -86.9, '5cm', fontsize=11.5, va='center', ha='left')

# station labels on the east panel
for st in stations:
    axes[0].text(np.datetime64('1997-02-02'), east_model[st][0] + 2.3, st,
                 fontsize=11.5, ha='left', va='center')

axes[0].set_ylabel('Displacement (cm)', fontsize=11, labelpad=0)

handles = [Line2D([], [], ls='none', marker='o', ms=2.7, mew=0, color=blue),
           Line2D([], [], ls='none', marker='o', ms=2.7, mew=0, color=red)]
leg = axes[2].legend(handles, ['Data', 'Model'], loc='lower right',
                     bbox_to_anchor=(0.797, 0.031), fontsize=12, frameon=True,
                     fancybox=False, edgecolor='k', handlelength=2.0,
                     borderpad=0.15, labelspacing=-0.1, handletextpad=1.3, borderaxespad=0)
leg.get_frame().set_linewidth(1.2)

fig.savefig('out.png', dpi=100)
